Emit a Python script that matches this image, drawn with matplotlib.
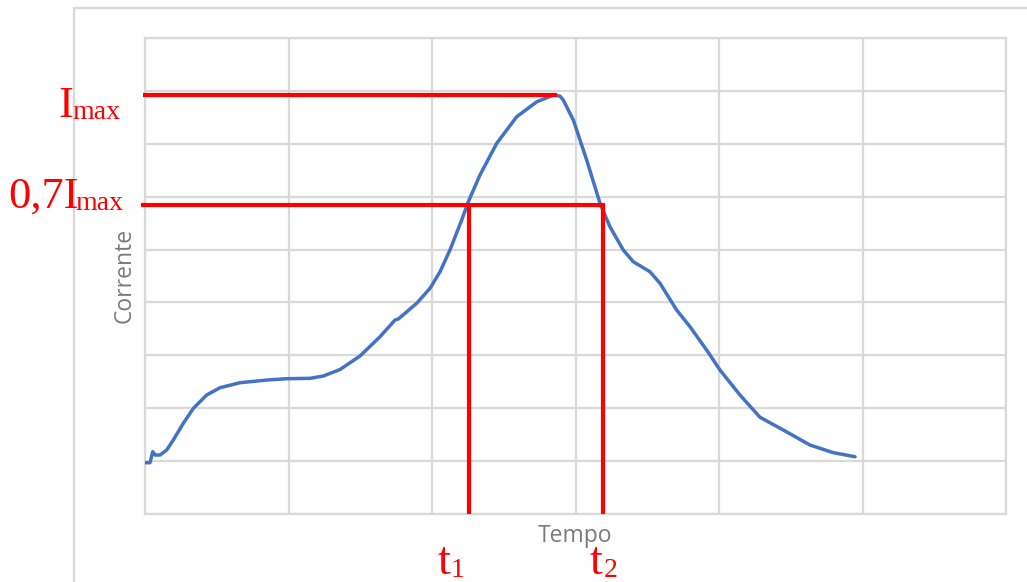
import matplotlib
matplotlib.use("Agg")
import matplotlib.pyplot as plt
from matplotlib.lines import Line2D

# ---- data ----
tempo = [0.000, 0.035, 0.054, 0.070, 0.105, 0.151, 0.197, 0.267, 0.337, 0.430,
         0.523, 0.662, 0.848, 0.987, 1.150, 1.243, 1.359, 1.498, 1.638, 1.742,
         1.765, 1.893, 1.986, 2.056, 2.125, 2.207, 2.253, 2.334, 2.451, 2.590,
         2.730, 2.845, 2.892, 2.915, 2.985, 3.078, 3.171, 3.240, 3.333, 3.403,
         3.519, 3.589, 3.705, 3.798, 3.914, 4.007, 4.146, 4.286, 4.448, 4.634,
         4.797, 4.948]
corrente = [0.970, 0.970, 1.178, 1.115, 1.115, 1.210, 1.399, 1.715, 1.998, 2.250,
            2.388, 2.482, 2.533, 2.558, 2.565, 2.609, 2.732, 2.987, 3.352, 3.667,
            3.686, 3.983, 4.267, 4.580, 4.991, 5.558, 5.904, 6.408, 7.008, 7.510,
            7.794, 7.921, 7.902, 7.826, 7.448, 6.692, 5.873, 5.431, 4.991, 4.769,
            4.580, 4.361, 3.856, 3.541, 3.100, 2.722, 2.250, 1.828, 1.588, 1.304,
            1.159, 1.083]
i_max = 7.92
i_07 = 5.84
t1 = 2.258
t2 = 3.194
t_peak = 2.868
x_ticks = [0, 1, 2, 3, 4, 5, 6]
y_ticks = [0, 1, 2, 3, 4, 5, 6, 7, 8, 9]

W, H = 1027, 582
fig = plt.figure(figsize=(W / 100, H / 100), dpi=100)
fig.patch.set_facecolor("white")

grid_c = "#d9d9d9"
ax = fig.add_axes([145 / W, 1 - 514 / H, (1006 - 145) / W, (514 - 38) / H])
ax.set_xlim(0, 6)
ax.set_ylim(0, 9)
ax.set_xticks(x_ticks)
ax.set_yticks(y_ticks)
ax.tick_params(length=0, labelbottom=False, labelleft=False)
ax.grid(True, color=grid_c, linewidth=1.6)
for s in ax.spines.values():
    s.set_color(grid_c)
    s.set_linewidth(1.6)
ax.set_axisbelow(True)

ax.plot(tempo, corrente, color="#4472C4", linewidth=2.5, solid_capstyle="round",
        solid_joinstyle="round", zorder=3)

red = "#ff0000"
lw = 3.0
x0 = -0.014
ax.plot([x0, t_peak], [i_max, i_max], color=red, lw=lw, clip_on=False, zorder=4,
        solid_capstyle="butt")
ax.plot([x0, t2], [i_07, i_07], color=red, lw=lw, clip_on=False, zorder=4,
        solid_capstyle="projecting")
ax.plot([t1, t1], [i_07, 0], color=red, lw=lw, clip_on=False, zorder=4,
        solid_capstyle="butt")
ax.plot([t2, t2], [i_07, 0], color=red, lw=lw, clip_on=False, zorder=4,
        solid_capstyle="butt")

# outer chart-area border
fig.add_artist(Line2D([74 / W, 74 / W], [0, 1 - 8 / H], color=grid_c, lw=1.6))
fig.add_artist(Line2D([74 / W, 1], [1 - 8 / H, 1 - 8 / H], color=grid_c, lw=1.6))

# axis titles
gray = "#7a7a7a"
fig.text(125 / W, 1 - 275 / H, "Corrente", rotation=90, ha="center", va="center",
         color=gray, fontsize=16.5, family="Open Sans")
fig.text(575 / W, 1 - 542 / H, "Tempo", ha="center", va="baseline",
         color=gray, fontsize=16.5, family="Open Sans")

serif = "Liberation Serif"
big, small = 32, 20


def label(xm, ym, main, xs, ys, sub, size=big):
    fig.text(xm / W, 1 - ym / H, main, ha="left", va="baseline", color=red,
             fontsize=size, family=serif)
    fig.text(xs / W, 1 - ys / H, sub, ha="left", va="baseline", color=red,
             fontsize=small, family=serif)


label(58, 117, "I", 72, 119, "max")
label(8, 208, "0,7I", 75, 210, "max")
label(437, 574, "t", 451, 577, "1", size=33)
label(590, 574, "t", 604, 577, "2", size=33)

fig.savefig("out.png", dpi=100, facecolor="white")
